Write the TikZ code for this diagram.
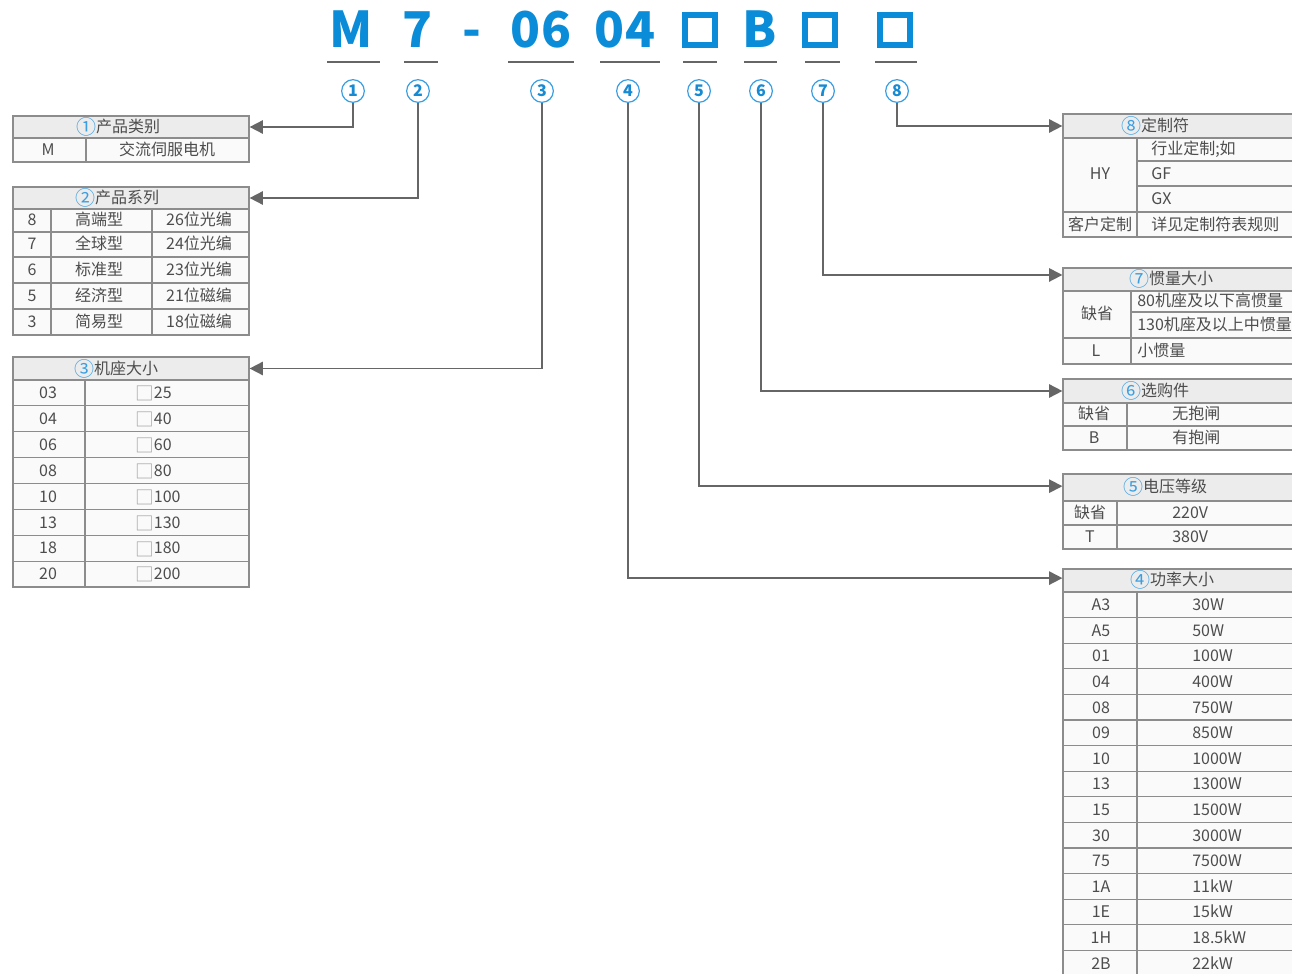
\documentclass[tikz,border=0pt]{standalone}
\usepackage{fontspec}
\setmainfont{Noto Sans CJK SC}
\usetikzlibrary{arrows.meta,fit}
\definecolor{codeblue}{HTML}{0A8CD8}
\definecolor{ringblue}{HTML}{3A9FE2}
\definecolor{digitblue}{HTML}{168AD2}
\definecolor{gridgray}{HTML}{8C8C8C}
\definecolor{headgray}{HTML}{ECECEC}
\definecolor{bodygray}{HTML}{FAFAFA}
\definecolor{textgray}{HTML}{4D4D4D}
\definecolor{linkgray}{HTML}{666666}
\newcommand{\hnum}[1]{{\color{ringblue}\fontsize{15}{14}\selectfont\raisebox{-1.6pt}{#1}}}
\newcommand{\sqmark}{{\color{gridgray!80}\fontsize{14}{14}\selectfont\raisebox{-1.6pt}{□}}}

\begin{document}
\begin{tikzpicture}[x=0.75pt,y=-0.75pt,
  codeletter/.style={text=codeblue,font=\fontsize{37}{37}\selectfont\bfseries,inner sep=0,anchor=base},
  codesq/.style={draw=codeblue,line width=4.4pt,minimum size=23pt,inner sep=0},
  codebar/.style={draw=linkgray,line width=1.5pt},
  numcirc/.style={circle,draw=ringblue,line width=0.9pt,minimum size=17pt,inner sep=0,text=digitblue,font=\fontsize{12}{12}\selectfont\bfseries},
  tabhead/.style={draw=gridgray,fill=headgray,line width=0.9pt,inner sep=0},
  tabgrid/.style={draw=gridgray,line width=0.9pt},
  celltext/.style={text=textgray,font=\fontsize{12}{14}\selectfont,inner sep=0,text height=10pt,text depth=1.5pt},
  linkarrow/.style={draw=linkgray,line width=1.3pt,-{Triangle[length=10pt,width=10pt]}},
]
\useasboundingbox (0,0) rectangle (1292,974);
\clip (0,0) rectangle (1292,974);
\fill[white] (0,0) rectangle (1292,974);

% model code
\node[codeletter] (k1) at (351,48) {M};
\node[codeletter] (k2) at (418,48) {7};
\node[codeletter] (kd) at (472,48) {-};
\node[codeletter] (k3) at (541,48) {06};
\node[codeletter] (k4) at (625,48) {04};
\node[codesq] (k5) at (700,30) {};
\node[codeletter] (k6) at (760,48) {B};
\node[codesq] (k7) at (820,30) {};
\node[codesq] (k8) at (895,30) {};
\foreach \a/\b in {327/380,404/438,508/574,600/660,683/717,744/777,805/840,875/917}
  \draw[codebar] (\a,62) -- (\b,62);
\foreach \i/\x in {1/353,2/418,3/542,4/628,5/699,6/761,7/823,8/897}
  \node[numcirc] (c\i) at (\x,91) {\i};

% 1
\draw[tabgrid,fill=bodygray] (13,116) rectangle (249,162);
\node[tabhead,fit={(13,116)(249,138)}] (h1) {};
\draw[tabgrid] (86,138) -- (86,162);
\node[celltext] at (118,127) {\hnum{①}产品类别};
\node[celltext] at (48,150) {M};
\node[celltext] at (167,150) {交流伺服电机};

% 2
\draw[tabgrid,fill=bodygray] (13,187) rectangle (249,335);
\node[tabhead,fit={(13,187)(249,209)}] (h2) {};
\foreach \y in {232,257,283,309}
  \draw[tabgrid] (13,\y) -- (249,\y);
\draw[tabgrid] (51,209) -- (51,335) (152,209) -- (152,335);
\node[celltext] at (117,198) {\hnum{②}产品系列};
\foreach \y/\a/\b/\c in {220/8/高端型/26位光编,244/7/全球型/24位光编,270/6/标准型/23位光编,296/5/经济型/21位磁编,322/3/简易型/18位磁编}{
  \node[celltext] at (32,\y) {\a};
  \node[celltext] at (99,\y) {\b};
  \node[celltext] at (199,\y) {\c};
}

% 3
\draw[tabgrid,fill=bodygray] (13,357) rectangle (249,587);
\node[tabhead,fit={(13,357)(249,380)}] (h3) {};
\foreach \k in {1,...,7}
  \draw[tabgrid] (13,{380+\k*25.875}) -- (249,{380+\k*25.875});
\draw[tabgrid] (85,380) -- (85,587);
\node[celltext] at (116,369) {\hnum{③}机座大小};
\foreach \k/\a/\b in {0/03/25,1/04/40,2/06/60,3/08/80,4/10/100,5/13/130,6/18/180,7/20/200}{
  \node[celltext] at (48,{393+\k*25.875}) {\a};
  \node[celltext,anchor=west] at (135,{393+\k*25.875}) {\sqmark\b};
}

% 8
\draw[tabgrid,fill=bodygray] (1063,114) rectangle (1310,237);
\node[tabhead,fit={(1063,114)(1310,138)}] (h8) {};
\draw[tabgrid] (1137,161) -- (1310,161) (1137,186) -- (1310,186) (1063,212) -- (1310,212) (1137,138) -- (1137,237);
\node[celltext] at (1155,126) {\hnum{⑧}定制符};
\node[celltext] at (1100,174) {HY};
\node[celltext,anchor=west] at (1151,149) {行业定制;如};
\node[celltext,anchor=west] at (1151,174) {GF};
\node[celltext,anchor=west] at (1151,199) {GX};
\node[celltext] at (1100,225) {客户定制};
\node[celltext,anchor=west] at (1151,225) {详见定制符表规则};

% 7
\draw[tabgrid,fill=bodygray] (1063,268) rectangle (1310,364);
\node[tabhead,fit={(1063,268)(1310,291)}] (h7) {};
\draw[tabgrid] (1131,312) -- (1310,312) (1063,338) -- (1310,338) (1131,291) -- (1131,364);
\node[celltext] at (1171,279) {\hnum{⑦}惯量大小};
\node[celltext] at (1097,314) {缺省};
\node[celltext,anchor=west] at (1137,301) {80机座及以下高惯量};
\node[celltext,anchor=west] at (1137,325) {130机座及以上中惯量};
\node[celltext] at (1096,351) {L};
\node[celltext,anchor=west] at (1137,351) {小惯量};

% 6
\draw[tabgrid,fill=bodygray] (1063,379) rectangle (1310,450);
\node[tabhead,fit={(1063,379)(1310,403)}] (h6) {};
\draw[tabgrid] (1063,426) -- (1310,426) (1127,403) -- (1127,450);
\node[celltext] at (1155,391) {\hnum{⑥}选购件};
\node[celltext] at (1094,414) {缺省};
\node[celltext] at (1094,438) {B};
\node[celltext,anchor=west] at (1172,414) {无抱闸};
\node[celltext,anchor=west] at (1172,438) {有抱闸};

% 5
\draw[tabgrid,fill=bodygray] (1063,474) rectangle (1310,549);
\node[tabhead,fit={(1063,474)(1310,501)}] (h5) {};
\draw[tabgrid] (1063,525) -- (1310,525) (1117,501) -- (1117,549);
\node[celltext] at (1165,487) {\hnum{⑤}电压等级};
\node[celltext] at (1090,513) {缺省};
\node[celltext] at (1090,537) {T};
\node[celltext,anchor=west] at (1172,513) {220V};
\node[celltext,anchor=west] at (1172,537) {380V};

% 4
\draw[tabgrid,fill=bodygray] (1063,569) rectangle (1310,990);
\node[tabhead,fit={(1063,569)(1310,592)}] (h4) {};
\foreach \k in {1,...,15}
  \draw[tabgrid] (1063,{592+\k*25.6}) -- (1310,{592+\k*25.6});
\draw[tabgrid] (1137,592) -- (1137,990);
\node[celltext] at (1172,580) {\hnum{④}功率大小};
\foreach \k/\a/\b in {0/A3/30W,1/A5/50W,2/01/100W,3/04/400W,4/08/750W,5/09/850W,6/10/1000W,7/13/1300W,8/15/1500W,9/30/3000W,10/75/7500W,11/1A/11kW,12/1E/15kW,13/1H/18.5kW,14/2B/22kW}{
  \node[celltext] at (1101,{605+\k*25.6}) {\a};
  \node[celltext,anchor=west] at (1192,{605+\k*25.6}) {\b};
}

% connectors
\draw[linkarrow] (c1) |- (h1);
\draw[linkarrow] (c2) |- (h2);
\draw[linkarrow] (c3) |- (h3);
\draw[linkarrow] (c4) |- ([yshift=1.8pt]h4.west);
\draw[linkarrow] (c5) |- ([yshift=1pt]h5.west);
\draw[linkarrow] (c6) |- (h6);
\draw[linkarrow] (c7) |- ([yshift=3.4pt]h7.west);
\draw[linkarrow] (c8) |- (h8);
\end{tikzpicture}
\end{document}
